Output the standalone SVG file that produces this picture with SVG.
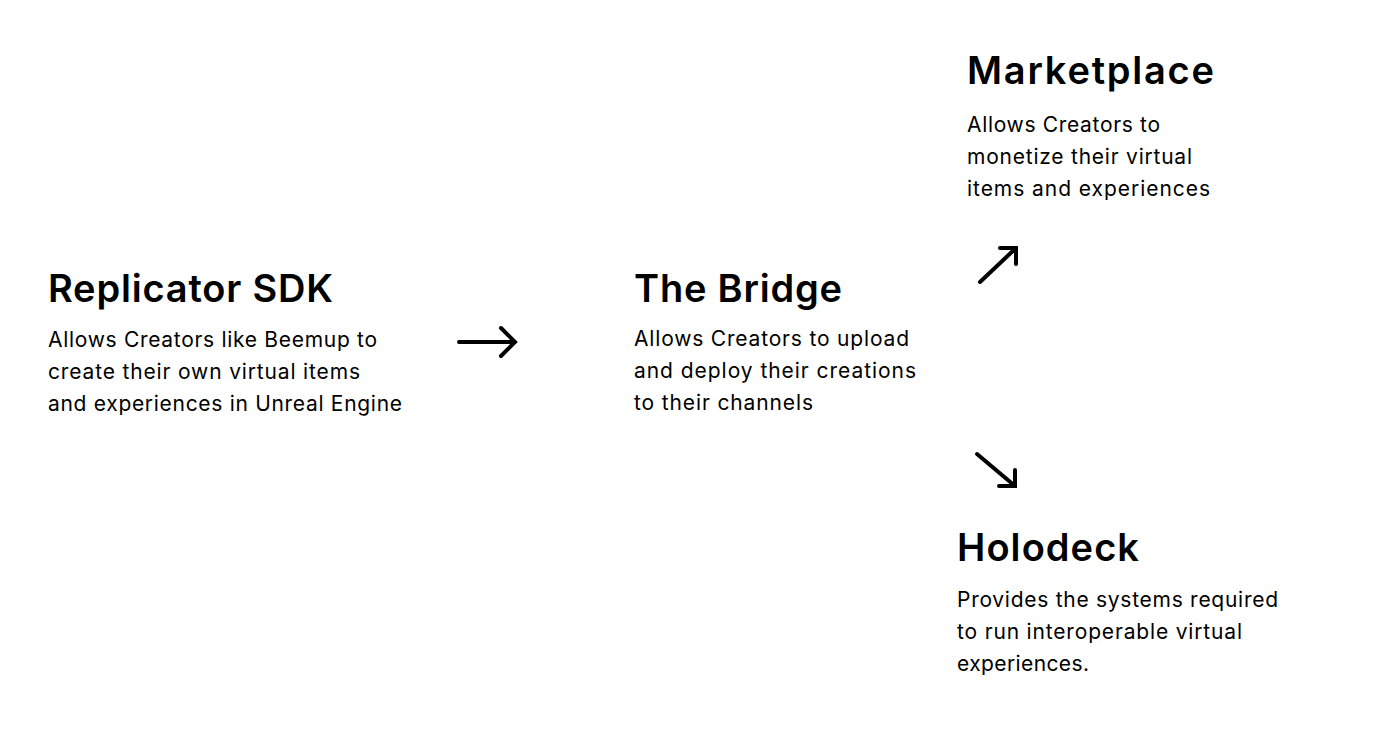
<svg xmlns="http://www.w3.org/2000/svg" width="1400" height="746" viewBox="0 0 1400 746">
<style>
.t{font-family:Inter,"Open Sans","Liberation Sans",sans-serif;font-weight:600;font-size:38px;fill:#000}
.b{font-family:Inter,"Open Sans","Liberation Sans",sans-serif;font-weight:400;font-size:21px;fill:#000}
.a{fill:none;stroke:#000;stroke-width:4;stroke-linecap:round;stroke-linejoin:miter}
</style>
<rect width="1400" height="746" fill="#fff"/>
<g id="replicator">
<text class="t" x="48" y="302" textLength="285">Replicator SDK</text>
<text class="b" x="48" y="347" textLength="329">Allows Creators like Beemup to</text>
<text class="b" x="48" y="379" textLength="312">create their own virtual items</text>
<text class="b" x="48" y="411" textLength="354">and experiences in Unreal Engine</text>
</g>
<g id="bridge">
<text class="t" x="634" y="302" textLength="208">The Bridge</text>
<text class="b" x="634" y="346" textLength="275">Allows Creators to upload</text>
<text class="b" x="634" y="378" textLength="282">and deploy their creations</text>
<text class="b" x="634" y="410" textLength="179">to their channels</text>
</g>
<g id="marketplace">
<text class="t" x="967" y="84" textLength="247">Marketplace</text>
<text class="b" x="967" y="132" textLength="193">Allows Creators to</text>
<text class="b" x="967" y="164" textLength="225">monetize their virtual</text>
<text class="b" x="967" y="196" textLength="243">items and experiences</text>
</g>
<g id="holodeck">
<text class="t" x="957" y="561" textLength="182">Holodeck</text>
<text class="b" x="957" y="607" textLength="321">Provides the systems required</text>
<text class="b" x="957" y="639" textLength="285">to run interoperable virtual</text>
<text class="b" x="957" y="671" textLength="132">experiences.</text>
</g>
<g id="connectors">
<path class="a" d="M459 342 H515 M501 328 L515 342 L501 356"/>
<path class="a" d="M980 282 L1016 248 M1000 248 H1016 V264"/>
<path class="a" d="M977 454 L1015 486 M999 486 H1015 V470"/>
</g>
</svg>
